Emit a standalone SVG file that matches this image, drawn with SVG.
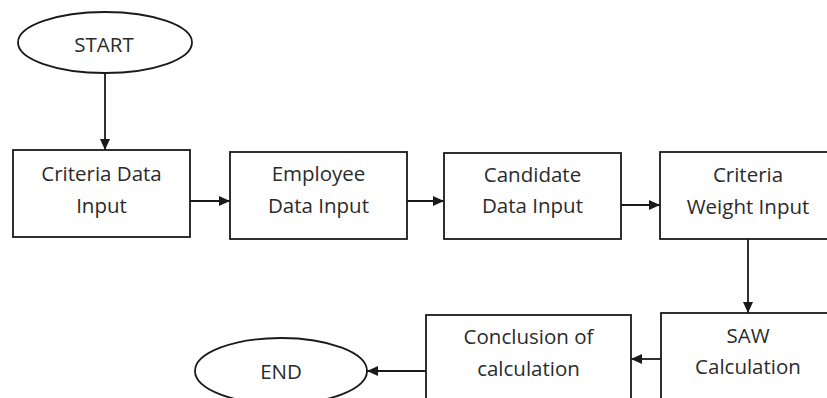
<svg xmlns="http://www.w3.org/2000/svg" width="827" height="398" viewBox="0 0 827 398">
<style>
.shape{fill:#fff;stroke:#1a1a1a;stroke-width:1.8}
.lbl{font-family:"Open Sans","Noto Sans",sans-serif;font-size:20.5px;fill:#2b2b2b;text-anchor:middle}
.conn{stroke:#1a1a1a;stroke-width:1.8;fill:none;marker-end:url(#arr)}
</style>
<defs>
<marker id="arr" markerUnits="userSpaceOnUse" markerWidth="11" markerHeight="10" refX="11" refY="5" orient="auto">
<path d="M0,0 L11,5 L0,10 z" fill="#1a1a1a"/>
</marker>
</defs>
<rect width="827" height="398" fill="#fff"/>
<g id="connectors">
<line class="conn" x1="105" y1="73" x2="105" y2="150"/>
<line class="conn" x1="190" y1="201" x2="230" y2="201"/>
<line class="conn" x1="407" y1="201" x2="444" y2="201"/>
<line class="conn" x1="621" y1="205" x2="660" y2="205"/>
<line class="conn" x1="748" y1="239" x2="748" y2="313"/>
<line class="conn" x1="661" y1="359" x2="631" y2="359"/>
<line class="conn" x1="426" y1="371" x2="367" y2="371"/>
</g>
<g id="start">
<ellipse class="shape" cx="105" cy="42.5" rx="87" ry="30.5"/>
<text class="lbl" x="104" y="52">START</text>
</g>
<g id="criteria-data-input">
<rect class="shape" x="13" y="150" width="177" height="87"/>
<text class="lbl" x="101.5" y="181">Criteria Data</text>
<text class="lbl" x="101.5" y="213">Input</text>
</g>
<g id="employee-data-input">
<rect class="shape" x="230" y="152" width="177" height="87"/>
<text class="lbl" x="318.5" y="181">Employee</text>
<text class="lbl" x="318.5" y="213">Data Input</text>
</g>
<g id="candidate-data-input">
<rect class="shape" x="444" y="153" width="177" height="86"/>
<text class="lbl" x="532.5" y="182">Candidate</text>
<text class="lbl" x="532.5" y="213">Data Input</text>
</g>
<g id="criteria-weight-input">
<rect class="shape" x="660" y="152" width="180" height="87"/>
<text class="lbl" x="748" y="182">Criteria</text>
<text class="lbl" x="748" y="214">Weight Input</text>
</g>
<g id="saw-calculation">
<rect class="shape" x="661" y="313" width="180" height="100"/>
<text class="lbl" x="748" y="343">SAW</text>
<text class="lbl" x="748" y="374">Calculation</text>
</g>
<g id="conclusion">
<rect class="shape" x="426" y="315" width="205" height="100"/>
<text class="lbl" x="528.5" y="344">Conclusion of</text>
<text class="lbl" x="528.5" y="376">calculation</text>
</g>
<g id="end">
<ellipse class="shape" cx="281" cy="371" rx="86" ry="33"/>
<text class="lbl" x="281" y="379">END</text>
</g>
</svg>
